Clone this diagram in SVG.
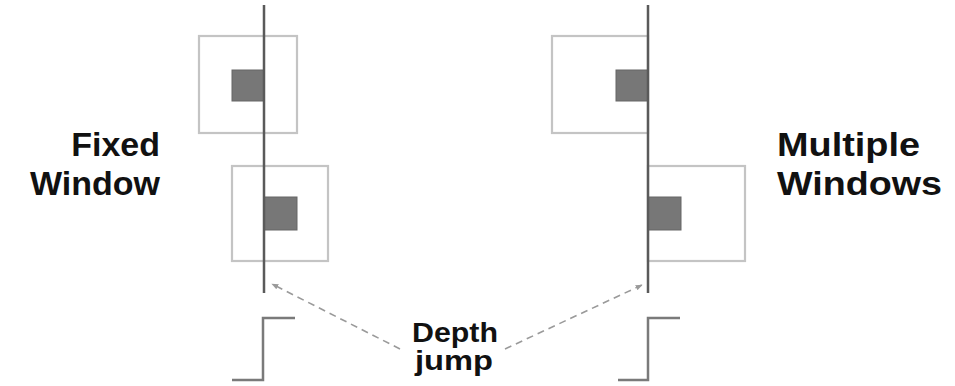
<svg xmlns="http://www.w3.org/2000/svg" width="955" height="386" viewBox="0 0 955 386">
  <style>
    .win { fill: none; stroke: #c4c4c4; stroke-width: 2.2; }
    .blk { fill: #777777; stroke: #666666; stroke-width: 1; }
    .edge { stroke: #5a5a5a; stroke-width: 2.5; fill: none; }
    .step { stroke: #7a7a7a; stroke-width: 2.5; fill: none; }
    .lbl { font-family: "Liberation Sans", Arial, sans-serif; font-weight: bold; fill: #111111; }
    .dash { stroke: #9a9a9a; stroke-width: 1.6; stroke-dasharray: 7 5; fill: none; }
  </style>
  <defs>
    <marker id="arrow" viewBox="0 0 10 10" refX="9" refY="5" markerWidth="7" markerHeight="7" orient="auto-start-reverse" markerUnits="userSpaceOnUse">
      <path d="M0,1 L10,5 L0,9 Z" fill="#9a9a9a"/>
    </marker>
  </defs>
  <rect width="955" height="386" fill="#ffffff"/>

  <!-- Fixed window panel -->
  <g id="fixed-top">
    <rect class="win" x="199" y="36" width="98" height="97"/>
    <rect class="blk" x="232" y="70" width="32" height="31"/>
  </g>
  <g id="fixed-bottom">
    <rect class="win" x="232" y="166" width="96" height="95"/>
    <rect class="blk" x="264" y="197" width="33" height="33"/>
  </g>
  <g id="fixed-edge">
    <line class="edge" x1="264" y1="5" x2="264" y2="293"/>
    <polyline class="step" points="232,380 263,380 263,318 295,318"/>
  </g>

  <!-- Multiple windows panel -->
  <g id="multi-top">
    <rect class="win" x="552" y="36" width="96" height="97"/>
    <rect class="blk" x="616" y="70" width="32" height="31"/>
  </g>
  <g id="multi-bottom">
    <rect class="win" x="648" y="166" width="97" height="95"/>
    <rect class="blk" x="648" y="197" width="33" height="33"/>
  </g>
  <g id="multi-edge">
    <line class="edge" x1="648" y1="5" x2="648" y2="293"/>
    <polyline class="step" points="618,380 648,380 648,318 680,318"/>
  </g>

  <!-- Labels -->
  <g id="label-fixed">
    <text class="lbl" x="160" y="156" font-size="34" text-anchor="end">Fixed</text>
    <text class="lbl" x="160" y="195" font-size="34" text-anchor="end">Window</text>
  </g>
  <g id="label-multi">
    <text class="lbl" x="777" y="156" font-size="34" textLength="143" lengthAdjust="spacingAndGlyphs">Multiple</text>
    <text class="lbl" x="777" y="195" font-size="34" textLength="165" lengthAdjust="spacingAndGlyphs">Windows</text>
  </g>
  <g id="label-jump">
    <text class="lbl" x="455" y="342" font-size="28" text-anchor="middle" textLength="86" lengthAdjust="spacingAndGlyphs">Depth</text>
    <text class="lbl" x="454" y="370" font-size="28" text-anchor="middle" textLength="78" lengthAdjust="spacingAndGlyphs">jump</text>
  </g>

  <!-- Connectors -->
  <g id="connectors">
    <line class="dash" x1="400" y1="349" x2="272" y2="284" marker-end="url(#arrow)"/>
    <line class="dash" x1="505" y1="349" x2="642" y2="285" marker-end="url(#arrow)"/>
  </g>
</svg>
